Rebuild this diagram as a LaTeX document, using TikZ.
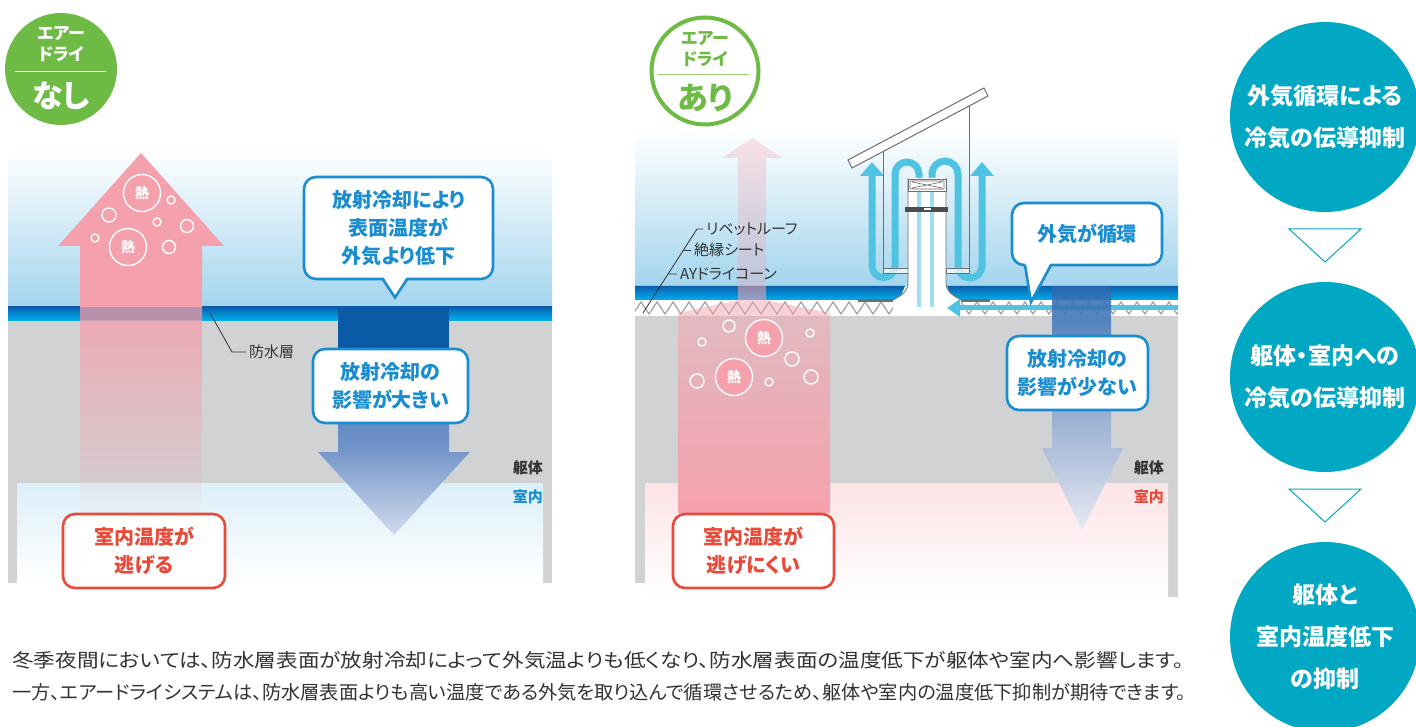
\documentclass[tikz,border=0pt]{standalone}
\usepackage{fontspec}
\usepackage{graphicx}
\setmainfont{Noto Sans CJK JP}[RawFeature={+palt}]
\usetikzlibrary{arrows.meta,calc,fadings}

\definecolor{skyblue}{HTML}{A3D5EE}
\definecolor{roomblue}{HTML}{DCEFF8}
\definecolor{roompink}{HTML}{FDE3E6}
\definecolor{layertop}{HTML}{0A5FAA}
\definecolor{layermid}{HTML}{0688D0}
\definecolor{layerbot}{HTML}{00AEEA}
\definecolor{bodygray}{HTML}{D1D2D4}
\definecolor{heatpink}{HTML}{F4A1AD}
\definecolor{coldtop}{HTML}{0A5AA6}
\definecolor{coldupper}{HTML}{4076B7}
\definecolor{coldmid}{HTML}{6D91C6}
\definecolor{coldtip}{HTML}{D2DBEE}
\definecolor{weaktop}{HTML}{2A68B1}
\definecolor{weakmid}{HTML}{8DA7D0}
\definecolor{weaktip}{HTML}{E4E9F4}
\definecolor{calloutblue}{HTML}{1A8DD0}
\definecolor{alertred}{HTML}{E84A3A}
\definecolor{badgegreen}{HTML}{6DBB45}
\definecolor{badgeline}{HTML}{95CC74}
\definecolor{flowteal}{HTML}{00A8C4}
\definecolor{airblue}{HTML}{4FC3E1}
\definecolor{ventgray}{HTML}{6D6E71}
\definecolor{conegray}{HTML}{A6A8AB}
\definecolor{labelgray}{HTML}{333333}

\tikzfading[name=heatfade, top color=transparent!20, bottom color=transparent!100]
\tikzfading[name=riseup, top color=transparent!55, bottom color=transparent!0]

\tikzset{
  waterproof/.style={top color=layertop, bottom color=layerbot, middle color=layermid},
  callout/.style={draw=calloutblue, line width=2.6pt, fill=white, rounded corners=12pt, align=center, text=calloutblue, font=\fontsize{20}{28}\selectfont\bfseries, inner sep=0pt},
  tail/.style={draw=calloutblue, line width=2.6pt, line join=miter},
  heat/.style={circle, draw=white, line width=1.4pt, fill=heatpink, minimum size=37pt, inner sep=0pt, text=white, font=\fontsize{14}{14}\selectfont\bfseries},
  bubble/.style={circle, draw=white, line width=1.4pt, inner sep=0pt},
  lbl/.style={font=\fontsize{15}{18}\selectfont, text=labelgray, inner sep=0pt},
  leader/.style={draw=labelgray, line width=0.8pt, shorten >=3pt},
  tag/.style={font=\fontsize{15}{15}\selectfont\bfseries, text=labelgray, inner sep=0pt},
  badge/.style={circle, minimum size=112pt, inner sep=0pt},
  badgetext/.style={font=\fontsize{17}{21}\selectfont\bfseries, align=center, inner sep=0pt},
  badgeword/.style={font=\fontsize{31}{31}\selectfont\bfseries, inner sep=0pt},
  airflow/.style={draw=airblue, line width=7pt, -{Triangle[length=14pt,width=23pt]}},
  flowstep/.style={circle, fill=flowteal, minimum size=190pt, align=center, text=white, font=\fontsize{23}{42}\selectfont\bfseries, inner sep=0pt},
  flowarrow/.style={draw=flowteal, fill=white, line width=1pt},
  note/.style={font=\fontsize{19}{19}\selectfont, text=labelgray, inner sep=0pt}
}

\begin{document}
\begin{tikzpicture}[x=1pt,y=-1pt]
  \useasboundingbox (0,0) rectangle (1416,727);
  \fill[white] (0,0) rectangle (1416,727);

  % ---- without air dry
  \shade[top color=white, bottom color=skyblue] (8,150) rectangle (552,307);
  \fill[bodygray] (8,320) rectangle (552,583);
  \shade[top color=roomblue, bottom color=white] (17,483) rectangle (543,583);
  \shade[waterproof] (8,307) rectangle (552,320);

  % heat going out
  \fill[heatpink] (141,153) -- (224,246) -- (202,246) -- (202,320) -- (80,320) -- (80,246) -- (58,246) -- cycle;
  \fill[layertop, opacity=0.25] (80,307) rectangle (202,320);
  \fill[heatpink, path fading=heatfade] (80,320) rectangle (202,515);
  \node[heat] (heatL1) at (142,193) {熱};
  \node[heat] (heatL2) at (128,247) {熱};
  \foreach \x/\y/\r [count=\i] in {171/200/4, 109/215/7, 157/222/4, 187/226/6.5, 169/247/6.5, 95/238/4}
    \node[bubble, minimum size=2*\r] (spotL\i) at (\x,\y) {};

  % radiative cooling
  \fill[coldtop] (338,307) rectangle (449,352);
  \shade[top color=coldupper, bottom color=coldtip, middle color=coldmid]
    (338,352) -- (449,352) -- (449,452) -- (470,452) -- (394,535) -- (318,452) -- (338,452) -- cycle;

  \node[callout, minimum width=189pt, minimum height=102pt] (coolL) at (398.5,228) {放射冷却により\\表面温度が\\外気より低下};
  \fill[white] (383.5,277.2) -- (406.5,277.2) -- (395,296) -- cycle;
  \draw[tail] (383,279.5) -- (395,297.5) -- (407,279.5);
  \node[callout, minimum width=155pt, minimum height=74pt] (impactL) at (390.5,386) {放射冷却の\\影響が大きい};

  \coordinate (layerL) at (210,313);
  \node[lbl, anchor=west] (bousui) at (249,352) {防水層};
  \draw[leader] (layerL) -- (232,352) -- (bousui.west);

  \node[tag, anchor=east] (bodyL) at (543,468) {躯体};
  \node[tag, anchor=east, text=calloutblue] (roomL) at (543,497) {室内};
  \node[callout, draw=alertred, text=alertred, minimum width=162pt, minimum height=74pt] (escapeL) at (144,551) {室内温度が\\逃げる};

  \node[badge, fill=badgegreen] (badgeL) at (61,69) {};
  \node[badgetext, text=white] (badgeLtop) at (61,44) {エアー\\ドライ};
  \draw[white, line width=1pt] (15,72) -- (106,72);
  \node[badgeword, text=white] (badgeLword) at (61,96) {なし};

  % ---- with air dry
  \shade[top color=white, bottom color=skyblue] (635,130) rectangle (1178,286);
  \fill[bodygray] (635,316) rectangle (1178,583);
  \fill[bodygray] (1168,583) rectangle (1178,597);
  \shade[top color=roompink, bottom color=white] (645,483) rectangle (1168,597);

  % dry cone
  \fill[white] (635,300) rectangle (1178,316);
  \begin{scope}
    \clip (635,300) rectangle (1178,316);
    \draw[conegray, line width=1.3pt] (633,314) \foreach \k in {1,...,35} { -- ++(8,-12) -- ++(8,12) };
  \end{scope}
  \shade[waterproof] (635,286) -- (905,286) -- (899,300) -- (635,300) -- cycle;
  \shade[waterproof] (947,286) -- (1178,286) -- (1178,300) -- (953,300) -- cycle;
  \fill[ventgray] (858,299.5) rectangle (899,302.5);
  \fill[ventgray] (953,299.5) rectangle (990,302.5);

  % heat kept inside
  \fill[heatpink, path fading=riseup] (738,300) -- (766,300) -- (830,313) -- (830,513) -- (678,513) -- (678,313) -- cycle;
  \fill[heatpink, opacity=0.3] (752,138) -- (782,158) -- (766,158) -- (766,300) -- (738,300) -- (738,158) -- (722,158) -- cycle;
  \fill[heatpink, opacity=0.4] (738,286) rectangle (766,300);
  \node[heat] (heatR1) at (764,338) {熱};
  \node[heat] (heatR2) at (734,377) {熱};
  \foreach \x/\y/\r [count=\i] in {729/326/6, 702/342/4, 810/333/4, 792/359/7, 697/381/7, 769/382/4, 811/377/7}
    \node[bubble, minimum size=2*\r] (spotR\i) at (\x,\y) {};

  % ventilation unit
  \draw[airflow] (919,307) -- (919,174) arc[start angle=0, end angle=-180, radius=12] -- (895,266)
    arc[start angle=0, end angle=180, radius=11.5] -- (872,162);
  \draw[airflow] (932,307) -- (932,174) arc[start angle=180, end angle=360, radius=13] -- (958,266)
    arc[start angle=180, end angle=0, radius=12] -- (982,162);
  \draw[ventgray, line width=1pt] (883,152) -- (883,273) (969,106) -- (969,273);
  \filldraw[fill=white, fill opacity=0.7, draw=ventgray, line width=0.6pt] (883,268) rectangle (908,273) (946,268) rectangle (969,273);
  \filldraw[fill=white, draw=ventgray, line width=1pt] (848,160) -- (984,88) -- (988,96) -- (852,168) -- cycle;
  \fill[white] (908,178) -- (908,283) .. controls (908,292) and (900,296) .. (893,300) -- (893,316)
    -- (961,316) -- (961,300) .. controls (954,296) and (946,292) .. (946,283) -- (946,178) -- cycle;
  \draw[ventgray, line width=0.8pt] (908,178) -- (908,283) .. controls (908,292) and (900,296) .. (893,300);
  \draw[ventgray, line width=0.8pt] (946,178) -- (946,283) .. controls (946,292) and (954,296) .. (961,300);
  \draw[airblue!55, line width=4pt] (919,192) -- (919,307) (932,192) -- (932,307);
  \filldraw[fill=white, draw=ventgray, line width=0.8pt] (908,179) rectangle (946,191);
  \draw[ventgray, line width=0.6pt] (910,181) rectangle (944,189) (912,182) -- (942,188) (912,188) -- (942,182);
  \fill[ventgray!70!black] (905,207) rectangle (948,212);
  \fill[white] (924,208.5) rectangle (931,210.5);

  % outside air drawn in
  \coordinate (airIn) at (1178,308);
  \coordinate (stackFoot) at (947,308);
  \draw[airblue, line width=5pt, -{Triangle[length=13pt,width=17pt]}] (airIn) -- (stackFoot);

  \shade[top color=weaktop, bottom color=weaktip, middle color=weakmid, opacity=0.88]
    (1052,286) -- (1111,286) -- (1111,448) -- (1123,448) -- (1082,530) -- (1042,448) -- (1052,448) -- cycle;

  \node[callout, minimum width=150pt, minimum height=62pt] (airLoop) at (1087,234) {外気が循環};
  \fill[white] (1025,262.2) -- (1051,262.2) -- (1031,300) -- cycle;
  \draw[tail] (1025,265) -- (1031,302) -- (1051,265);
  \node[callout, minimum width=141pt, minimum height=74pt] (impactR) at (1077.5,373) {放射冷却の\\影響が少ない};

  \coordinate (layerR) at (643,313);
  \coordinate (bend) at (697,229);
  \node[lbl, anchor=west] (rivet) at (706,229) {リベットルーフ};
  \node[lbl, anchor=west] (sheet) at (694,250) {絶縁シート};
  \node[lbl, anchor=west] (cone) at (680,274) {AYドライコーン};
  \draw[leader] (layerR) -- (bend) -- (rivet.west);
  \draw[leader] ($(layerR)!0.75!(bend)$) -- (sheet.west);
  \draw[leader] ($(layerR)!0.464!(bend)$) -- (cone.west);

  \node[tag, anchor=east] (bodyR) at (1164,468) {躯体};
  \node[tag, anchor=east, text=alertred] (roomR) at (1164,497) {室内};
  \node[callout, draw=alertred, text=alertred, minimum width=161pt, minimum height=74pt] (escapeR) at (753.5,551) {室内温度が\\逃げにくい};

  \node[badge, draw=badgegreen, line width=4pt, fill=white, minimum size=107pt] (badgeR) at (705,71) {};
  \node[badgetext, text=badgegreen] (badgeRtop) at (705,49) {エアー\\ドライ};
  \draw[badgeline, line width=1pt] (658,75) -- (749,75);
  \node[badgeword, text=badgegreen] (badgeRword) at (705,98) {あり};

  % ---- effect chain
  \node[flowstep] (stepA) at (1325,117) {外気循環による\\冷気の伝導抑制};
  \node[flowstep] (stepB) at (1325,377) {躯体・室内への\\冷気の伝導抑制};
  \node[flowstep] (stepC) at (1325,637) {躯体と\\室内温度低下\\の抑制};
  \draw[flowarrow] ($(stepA.south)!0.5!(stepB.north)$) ++(-36,-18) -- ++(72,0) -- ++(-36,33) -- cycle;
  \draw[flowarrow] ($(stepB.south)!0.5!(stepC.north)$) ++(-36,-18) -- ++(72,0) -- ++(-36,33) -- cycle;

  % ---- explanation
  \node[note, anchor=west] (noteA) at (12,660) {\resizebox{1172pt}{\height}{冬季夜間においては、防水層表面が放射冷却によって外気温よりも低くなり、防水層表面の温度低下が躯体や室内へ影響します。}};
  \node[note, anchor=west] (noteB) at (12,692) {\resizebox{1174pt}{\height}{一方、エアードライシステムは、防水層表面よりも高い温度である外気を取り込んで循環させるため、躯体や室内の温度低下抑制が期待できます。}};
\end{tikzpicture}
\end{document}
